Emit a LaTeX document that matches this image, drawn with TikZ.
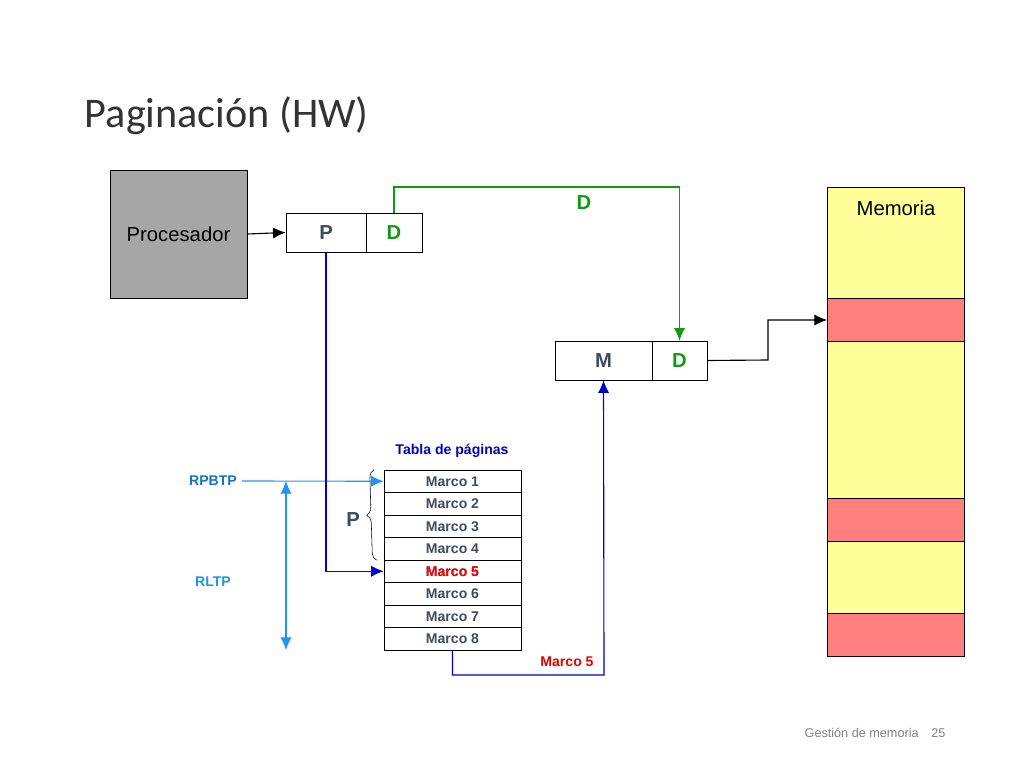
\documentclass[tikz,border=0pt]{standalone}
\usepackage{fontspec}
\setmainfont{Liberation Sans}
\newfontfamily\titlefont{Carlito}
\usetikzlibrary{decorations.pathreplacing}
\definecolor{txtgray}{HTML}{3F4A5A}
\definecolor{dgreen}{HTML}{139A13}
\definecolor{memyel}{HTML}{FFFF99}
\definecolor{memred}{HTML}{FF7F7F}
\definecolor{rblue}{HTML}{1A6FC9}
\definecolor{lblue}{HTML}{1E96EE}
\tikzset{
  cell/.style={draw,minimum height=0.975cm,inner sep=0pt,font=\Large\bfseries},
  row/.style={draw,minimum width=3.425cm,minimum height=0.5625cm,inner sep=0pt,font=\bfseries,text=txtgray},
  arr/.style={-{Latex[length=9pt,width=8pt]},thick},
}
\usetikzlibrary{arrows.meta}
\begin{document}
\begin{tikzpicture}[x=0.025cm,y=-0.025cm]
\useasboundingbox (0,0) rectangle (1024,768);
\node[anchor=base west,font=\titlefont\fontsize{30}{36}\selectfont,text=black!80] (title) at (80,128) {Paginación (HW)};
% procesador
\node[draw,fill=black!35,minimum width=3.425cm,minimum height=3.2cm,font=\Large] (proc) at (178.5,234) {Procesador};
% direccion logica
\node[cell,minimum width=2cm,text=txtgray] (p) at (326,232.5) {P};
\node[cell,minimum width=1.4cm,text=dgreen] (d) at (394,232.5) {D};
% direccion fisica
\node[cell,minimum width=2.425cm,text=txtgray] (m) at (603.5,360.5) {M};
\node[cell,minimum width=1.375cm,text=dgreen] (d2) at (679.5,360.5) {D};
% memoria
\foreach \ya/\yb/\c in {187/298/memyel,298/341/memred,341/498/memyel,498/541/memred,541/613/memyel,613/656/memred}
  \draw[fill=\c] (827,\ya) rectangle (964,\yb);
\node[font=\Large] (mem) at (896,208) {Memoria};
\coordinate (memin) at (827,320);
% tabla de paginas
\foreach \i in {1,...,8}
  \node[row] (r\i) at (452.5,{470+22.5*(\i-0.5)}) {Marco \i};
\node[row,text=red] at (r5) {Marco 5};
\node[font=\bfseries,text=blue!75!black] (tab) at (452,451) {Tabla de páginas};
\draw[decorate,decoration={brace,amplitude=6pt}] (r4.south west)++(-7,0) coordinate (bb) -- ([xshift=-7]r1.north west) coordinate (bt);
\node[font=\Large\bfseries,text=txtgray] (plab) at (353,520) {P};
% registros
\node[font=\bfseries,text=rblue] (rpbtp) at (213,481) {RPBTP};
\node[font=\bfseries,text=lblue] (rltp) at (213,582) {RLTP};
\coordinate (lt) at (286,481);
\coordinate (lb) at (286,650);
\draw[arr,lblue] (rpbtp.east) -- (r1.west);
\draw[{Latex[length=9pt,width=8pt]}-{Latex[length=9pt,width=8pt]},thick,lblue] (lt) -- (lb);
% conexiones
\draw[arr] (proc.east) -- (p.west);
\draw[arr,dgreen] (d.north) |- (537,187) -| (d2.north);
\node[font=\Large\bfseries,text=dgreen] (dlab) at (584,203) {D};
\draw[arr,blue!80!black] (p.south) |- (r5.west);
\draw[arr,blue!80!black] (r8.south) |- (604,675) -- (m.south);
\node[font=\bfseries,text=red!90!black] (m5) at (567,662) {Marco 5};
\draw[arr] (d2.east) -- (768,360) |- (memin);
% pie
\node[font=\small,text=black!50] (pie) at (875,733) {Gestión de memoria\quad 25};
\end{tikzpicture}
\end{document}
